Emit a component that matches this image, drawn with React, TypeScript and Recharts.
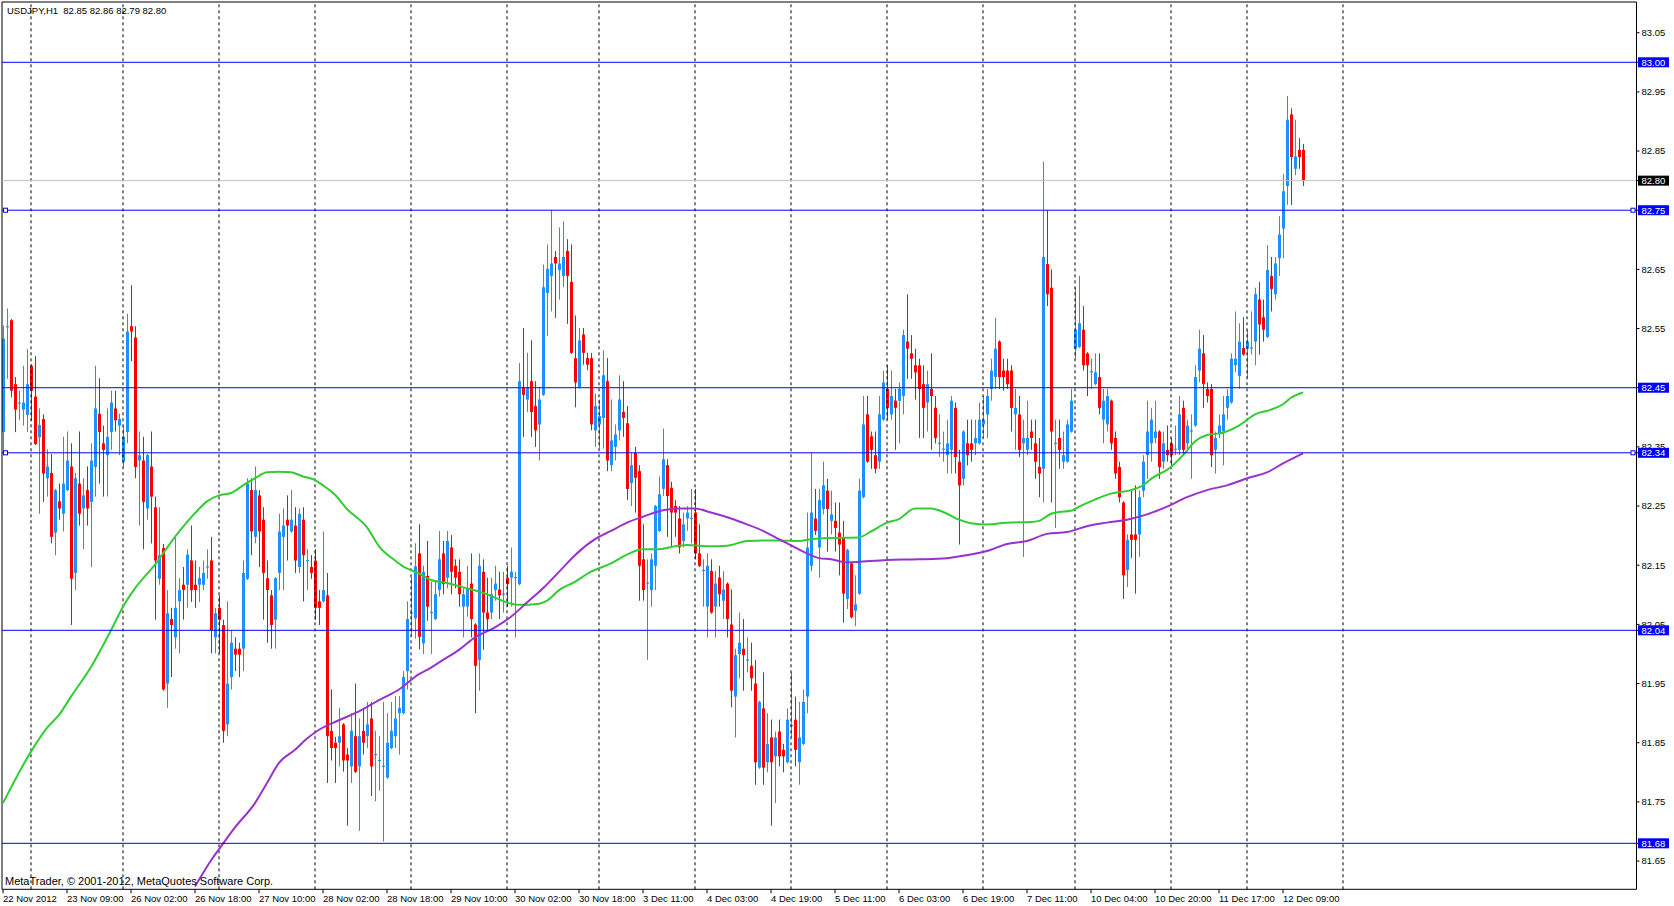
import { Bar, ComposedChart, Line, ReferenceLine, XAxis, YAxis } from "recharts"

// USDJPY H1 candles, bar 0 = 22 Nov 2012 17:00
const OPEN = [
  82.375, 82.552, 82.564, 82.456, 82.423, 82.413, 82.404, 82.487, 82.435, 82.366,
  82.397, 82.297, 82.306, 82.205, 82.258, 82.237, 82.277, 82.317, 82.137, 82.288,
  82.246, 82.277, 82.257, 82.316, 82.406, 82.356, 82.336, 82.375, 82.415, 82.386,
  82.325, 82.375, 82.554, 82.535, 82.327, 82.327, 82.246, 82.317, 82.248, 82.127,
  82.179, 81.95, 82.059, 82.028, 82.089, 82.117, 82.117, 82.158, 82.117, 82.117,
  82.117, 82.146, 82.158, 82.028, 82.078, 82.049, 81.881, 81.961, 82.009, 82.009,
  82.009, 82.127, 82.277, 82.198, 82.268, 82.227, 82.128, 82.099, 82.058, 82.137,
  82.198, 82.227, 82.207, 82.217, 82.147, 82.227, 82.157, 82.147, 82.158, 82.089,
  82.089, 82.099, 81.87, 81.85, 81.85, 81.881, 81.83, 81.81, 81.861, 81.81,
  81.87, 81.861, 81.891, 81.829, 81.819, 81.809, 81.791, 81.841, 81.861, 81.9,
  81.9, 81.971, 82.068, 82.06, 82.17, 82.018, 82.132, 82.069, 82.059, 82.108,
  82.17, 82.129, 82.18, 82.149, 82.139, 82.08, 82.08, 82.119, 82.05, 81.99,
  82.139, 82.07, 82.07, 82.108, 82.109, 82.1, 82.129, 82.129, 82.128, 82.118,
  82.451, 82.43, 82.461, 82.419, 82.388, 82.438, 82.61, 82.639, 82.671, 82.649,
  82.639, 82.681, 82.629, 82.5, 82.451, 82.54, 82.5, 82.5, 82.378, 82.388,
  82.399, 82.461, 82.319, 82.35, 82.378, 82.409, 82.39, 82.289, 82.34, 82.309,
  82.16, 82.119, 82.108, 82.149, 82.208, 82.279, 82.319, 82.281, 82.25, 82.229,
  82.191, 82.229, 82.228, 82.239, 82.17, 82.14, 82.08, 82.14, 82.08, 82.129,
  82.09, 82.119, 82.05, 81.928, 82.0, 82.009, 81.989, 81.98, 81.95, 81.808,
  81.908, 81.817, 81.859, 81.827, 81.869, 81.838, 81.817, 81.878, 81.889, 81.817,
  81.848, 81.928, 82.149, 82.229, 82.18, 82.245, 82.276, 82.225, 82.225, 82.205,
  82.196, 82.093, 82.153, 82.073, 82.102, 82.265, 82.405, 82.368, 82.336, 82.325,
  82.396, 82.448, 82.405, 82.428, 82.428, 82.436, 82.528, 82.508, 82.488, 82.488,
  82.456, 82.425, 82.448, 82.416, 82.355, 82.345, 82.336, 82.345, 82.416, 82.325,
  82.296, 82.356, 82.356, 82.356, 82.356, 82.388, 82.405, 82.448, 82.468, 82.528,
  82.479, 82.479, 82.479, 82.405, 82.405, 82.356, 82.345, 82.376, 82.356, 82.316,
  82.313, 82.659, 82.619, 82.355, 82.365, 82.325, 82.325, 82.376, 82.516, 82.519,
  82.548, 82.508, 82.476, 82.456, 82.468, 82.396, 82.388, 82.428, 82.365, 82.316,
  82.256, 82.142, 82.202, 82.202, 82.202, 82.276, 82.336, 82.356, 82.365, 82.376,
  82.325, 82.345, 82.356, 82.345, 82.345, 82.416, 82.356, 82.376, 82.386, 82.479,
  82.508, 82.448, 82.448, 82.345, 82.373, 82.376, 82.416, 82.425, 82.488, 82.47,
  82.517, 82.516, 82.516, 82.528, 82.599, 82.569, 82.536, 82.639, 82.608, 82.669,
  82.719, 82.791, 82.912, 82.82, 82.852, 82.852,
]

const HIGH = [
  82.555, 82.584, 82.566, 82.468, 82.445, 82.487, 82.515, 82.489, 82.504, 82.415,
  82.405, 82.346, 82.338, 82.279, 82.288, 82.367, 82.376, 82.356, 82.306, 82.376,
  82.297, 82.317, 82.356, 82.487, 82.466, 82.386, 82.415, 82.445, 82.445, 82.406,
  82.386, 82.575, 82.623, 82.554, 82.376, 82.367, 82.338, 82.376, 82.266, 82.248,
  82.186, 82.108, 82.078, 82.197, 82.128, 82.147, 82.177, 82.217, 82.158, 82.147,
  82.158, 82.177, 82.198, 82.078, 82.099, 82.058, 82.089, 82.04, 82.028, 82.019,
  82.158, 82.297, 82.297, 82.317, 82.277, 82.248, 82.158, 82.108, 82.13, 82.237,
  82.246, 82.268, 82.277, 82.248, 82.246, 82.248, 82.177, 82.167, 82.177, 82.108,
  82.207, 82.137, 81.94, 81.86, 81.909, 81.883, 81.841, 81.9, 81.95, 81.891,
  81.909, 81.919, 81.919, 81.87, 81.861, 81.919, 81.9, 81.919, 81.929, 81.929,
  81.971, 82.089, 82.13, 82.187, 82.219, 82.149, 82.191, 82.122, 82.122, 82.208,
  82.191, 82.208, 82.201, 82.16, 82.16, 82.111, 82.149, 82.17, 82.052, 82.17,
  82.16, 82.129, 82.129, 82.149, 82.139, 82.139, 82.149, 82.18, 82.139, 82.492,
  82.551, 82.509, 82.53, 82.461, 82.451, 82.658, 82.692, 82.75, 82.681, 82.721,
  82.731, 82.701, 82.692, 82.572, 82.551, 82.551, 82.509, 82.509, 82.44, 82.43,
  82.513, 82.5, 82.43, 82.388, 82.471, 82.461, 82.419, 82.34, 82.35, 82.319,
  82.219, 82.16, 82.17, 82.252, 82.3, 82.381, 82.329, 82.291, 82.26, 82.25,
  82.239, 82.25, 82.279, 82.279, 82.219, 82.16, 82.17, 82.16, 82.14, 82.149,
  82.14, 82.121, 82.109, 82.009, 82.07, 82.059, 82.028, 82.019, 81.99, 81.921,
  81.969, 81.9, 81.889, 81.869, 81.889, 81.848, 81.908, 81.969, 81.928, 81.919,
  81.94, 82.239, 82.34, 82.279, 82.279, 82.325, 82.296, 82.276, 82.256, 82.256,
  82.225, 82.178, 82.155, 82.133, 82.296, 82.436, 82.436, 82.376, 82.376, 82.436,
  82.479, 82.488, 82.479, 82.448, 82.459, 82.548, 82.608, 82.539, 82.516, 82.499,
  82.488, 82.479, 82.508, 82.436, 82.405, 82.376, 82.396, 82.436, 82.425, 82.345,
  82.378, 82.396, 82.396, 82.396, 82.425, 82.436, 82.448, 82.499, 82.568, 82.53,
  82.499, 82.499, 82.488, 82.448, 82.436, 82.396, 82.428, 82.396, 82.396, 82.365,
  82.832, 82.75, 82.65, 82.396, 82.396, 82.376, 82.396, 82.448, 82.619, 82.639,
  82.588, 82.51, 82.499, 82.508, 82.508, 82.448, 82.448, 82.43, 82.376, 82.325,
  82.258, 82.202, 82.276, 82.285, 82.276, 82.336, 82.428, 82.416, 82.428, 82.378,
  82.376, 82.386, 82.365, 82.386, 82.436, 82.428, 82.396, 82.405, 82.488, 82.548,
  82.539, 82.459, 82.456, 82.376, 82.405, 82.436, 82.448, 82.508, 82.579, 82.559,
  82.569, 82.548, 82.579, 82.619, 82.629, 82.599, 82.691, 82.671, 82.671, 82.74,
  82.811, 82.943, 82.922, 82.903, 82.872, 82.862,
]

const LOW = [
  82.344, 82.465, 82.434, 82.375, 82.395, 82.386, 82.375, 82.394, 82.353, 82.237,
  82.257, 82.266, 82.187, 82.167, 82.227, 82.207, 82.275, 82.049, 82.108, 82.217,
  82.177, 82.217, 82.147, 82.266, 82.288, 82.266, 82.266, 82.345, 82.376, 82.336,
  82.316, 82.356, 82.495, 82.297, 82.217, 82.177, 82.227, 82.187, 82.058, 82.117,
  81.938, 81.909, 81.961, 82.009, 82.001, 82.058, 82.078, 82.088, 82.078, 82.088,
  82.108, 82.127, 82.001, 82.001, 82.001, 81.85, 81.861, 81.94, 81.971, 81.961,
  81.971, 82.125, 82.167, 82.187, 82.147, 82.058, 82.019, 82.009, 82.009, 82.108,
  82.108, 82.158, 82.205, 82.137, 82.137, 82.089, 82.108, 82.127, 82.058, 82.049,
  82.087, 81.782, 81.82, 81.782, 81.81, 81.801, 81.71, 81.782, 81.799, 81.701,
  81.83, 81.841, 81.76, 81.751, 81.769, 81.683, 81.789, 81.839, 81.841, 81.83,
  81.898, 81.94, 82.03, 82.026, 82.008, 82.0, 82.056, 82.0, 82.057, 82.097,
  82.101, 82.111, 82.101, 82.111, 82.08, 82.028, 82.063, 82.028, 81.9, 81.938,
  82.007, 82.038, 82.059, 82.09, 82.059, 82.07, 82.08, 82.08, 82.028, 82.116,
  82.367, 82.409, 82.367, 82.35, 82.327, 82.436, 82.537, 82.579, 82.568, 82.599,
  82.62, 82.558, 82.507, 82.417, 82.449, 82.489, 82.48, 82.378, 82.35, 82.347,
  82.347, 82.309, 82.309, 82.327, 82.361, 82.367, 82.26, 82.25, 82.239, 82.09,
  82.09, 81.99, 82.08, 82.108, 82.206, 82.267, 82.198, 82.18, 82.198, 82.17,
  82.18, 82.208, 82.187, 82.16, 82.147, 82.08, 82.028, 82.068, 82.028, 82.08,
  82.059, 82.028, 81.91, 81.859, 81.959, 81.938, 81.969, 81.938, 81.779, 81.806,
  81.779, 81.8, 81.71, 81.748, 81.81, 81.8, 81.815, 81.859, 81.81, 81.779,
  81.846, 81.9, 82.14, 82.201, 82.129, 82.236, 82.173, 82.202, 82.173, 82.133,
  82.053, 82.076, 82.06, 82.047, 82.1, 82.263, 82.323, 82.313, 82.305, 82.313,
  82.394, 82.396, 82.396, 82.345, 82.356, 82.405, 82.465, 82.465, 82.43, 82.365,
  82.365, 82.376, 82.345, 82.356, 82.333, 82.325, 82.305, 82.305, 82.305, 82.185,
  82.285, 82.319, 82.325, 82.336, 82.354, 82.365, 82.365, 82.428, 82.448, 82.448,
  82.445, 82.448, 82.376, 82.345, 82.333, 82.164, 82.336, 82.345, 82.296, 82.265,
  82.256, 82.588, 82.256, 82.213, 82.313, 82.313, 82.323, 82.374, 82.499, 82.517,
  82.479, 82.436, 82.448, 82.454, 82.405, 82.356, 82.376, 82.345, 82.296, 82.256,
  82.093, 82.113, 82.162, 82.102, 82.164, 82.265, 82.296, 82.325, 82.356, 82.296,
  82.313, 82.325, 82.316, 82.336, 82.336, 82.336, 82.345, 82.296, 82.384, 82.459,
  82.416, 82.425, 82.316, 82.305, 82.365, 82.319, 82.396, 82.423, 82.476, 82.448,
  82.504, 82.466, 82.506, 82.488, 82.506, 82.528, 82.534, 82.579, 82.599, 82.639,
  82.669, 82.759, 82.759, 82.809, 82.82, 82.791,
]

const CLOSE = [
  82.533, 82.554, 82.445, 82.413, 82.425, 82.425, 82.456, 82.445, 82.355, 82.387,
  82.305, 82.317, 82.198, 82.277, 82.246, 82.288, 82.327, 82.127, 82.297, 82.237,
  82.268, 82.246, 82.327, 82.415, 82.375, 82.345, 82.367, 82.425, 82.395, 82.397,
  82.367, 82.545, 82.545, 82.316, 82.336, 82.257, 82.336, 82.266, 82.158, 82.167,
  81.94, 82.069, 82.049, 82.078, 82.108, 82.108, 82.168, 82.108, 82.108, 82.128,
  82.137, 82.148, 82.04, 82.069, 82.058, 81.87, 81.95, 82.019, 81.999, 81.999,
  82.137, 82.288, 82.207, 82.277, 82.207, 82.137, 82.108, 82.049, 82.128, 82.207,
  82.217, 82.217, 82.227, 82.158, 82.237, 82.167, 82.159, 82.137, 82.078, 82.078,
  82.108, 81.861, 81.841, 81.841, 81.861, 81.82, 81.82, 81.87, 81.801, 81.861,
  81.85, 81.881, 81.81, 81.831, 81.821, 81.811, 81.85, 81.87, 81.891, 81.909,
  81.961, 82.059, 82.07, 82.148, 82.029, 82.139, 82.08, 82.071, 82.101, 82.16,
  82.118, 82.191, 82.139, 82.129, 82.101, 82.101, 82.111, 82.059, 81.98, 82.149,
  82.07, 82.059, 82.101, 82.119, 82.099, 82.102, 82.118, 82.139, 82.13, 82.461,
  82.438, 82.451, 82.409, 82.378, 82.43, 82.62, 82.651, 82.66, 82.66, 82.66,
  82.671, 82.639, 82.509, 82.459, 82.53, 82.509, 82.489, 82.388, 82.419, 82.402,
  82.471, 82.327, 82.361, 82.371, 82.43, 82.399, 82.279, 82.319, 82.298, 82.149,
  82.108, 82.121, 82.16, 82.25, 82.27, 82.329, 82.267, 82.239, 82.239, 82.18,
  82.219, 82.239, 82.23, 82.17, 82.149, 82.142, 82.149, 82.07, 82.119, 82.101,
  82.109, 82.059, 81.938, 81.998, 82.019, 81.998, 81.991, 81.959, 81.817, 81.919,
  81.808, 81.848, 81.817, 81.859, 81.827, 81.827, 81.889, 81.88, 81.838, 81.859,
  81.919, 82.18, 82.239, 82.208, 82.26, 82.285, 82.245, 82.236, 82.213, 82.185,
  82.102, 82.176, 82.062, 82.084, 82.276, 82.388, 82.325, 82.345, 82.313, 82.405,
  82.459, 82.416, 82.436, 82.416, 82.448, 82.539, 82.516, 82.499, 82.476, 82.448,
  82.416, 82.456, 82.436, 82.365, 82.357, 82.347, 82.356, 82.428, 82.333, 82.285,
  82.376, 82.336, 82.345, 82.365, 82.396, 82.396, 82.436, 82.479, 82.516, 82.468,
  82.468, 82.456, 82.416, 82.416, 82.345, 82.365, 82.365, 82.365, 82.325, 82.305,
  82.671, 82.608, 82.376, 82.357, 82.345, 82.336, 82.388, 82.428, 82.548, 82.559,
  82.488, 82.488, 82.478, 82.476, 82.416, 82.428, 82.436, 82.356, 82.305, 82.265,
  82.133, 82.193, 82.193, 82.193, 82.265, 82.325, 82.376, 82.396, 82.376, 82.316,
  82.356, 82.336, 82.336, 82.347, 82.405, 82.345, 82.386, 82.378, 82.468, 82.516,
  82.456, 82.436, 82.336, 82.365, 82.386, 82.405, 82.436, 82.499, 82.499, 82.528,
  82.506, 82.528, 82.518, 82.608, 82.557, 82.548, 82.649, 82.617, 82.66, 82.709,
  82.782, 82.903, 82.84, 82.841, 82.84, 82.801,
]

// moving averages: [bar, price]
const GREEN_MA = [
  [0, 81.748], [7, 81.835], [11, 81.875], [14, 81.897], [17, 81.928], [22, 81.978], [27, 82.04],
  [30, 82.08], [33, 82.111], [38, 82.151], [43, 82.198], [48, 82.238], [51, 82.258], [54, 82.268],
  [57, 82.272], [60, 82.285], [63, 82.297], [66, 82.307], [69, 82.308], [72, 82.307], [75, 82.3],
  [78, 82.294], [80, 82.285], [83, 82.269], [86, 82.245], [91, 82.214], [94, 82.182], [98, 82.158],
  [100, 82.148], [104, 82.136], [107, 82.125], [111, 82.12], [116, 82.111], [121, 82.101],
  [126, 82.087], [129, 82.083], [134, 82.085], [136, 82.09], [139, 82.108], [143, 82.122],
  [147, 82.139], [152, 82.153], [156, 82.168], [160, 82.177], [164, 82.177], [167, 82.181],
  [171, 82.184], [177, 82.182], [181, 82.183], [186, 82.191], [190, 82.192], [194, 82.192],
  [199, 82.191], [202, 82.194], [206, 82.196], [214, 82.197], [217, 82.207], [221, 82.222],
  [224, 82.228], [228, 82.246], [232, 82.246], [236, 82.237], [239, 82.227], [242, 82.221],
  [246, 82.219], [251, 82.222], [257, 82.223], [259, 82.225], [262, 82.237], [264, 82.24],
  [267, 82.242], [269, 82.249], [273, 82.261], [277, 82.271], [282, 82.277], [285, 82.285],
  [287, 82.296], [292, 82.316], [295, 82.336], [298, 82.359], [301, 82.37], [305, 82.374],
  [309, 82.386], [313, 82.405], [317, 82.413], [320, 82.422], [322, 82.433], [325, 82.442],
]

const PURPLE_MA = [
  [48, 81.607], [52, 81.651], [54, 81.67], [58, 81.707], [63, 81.748], [66, 81.782], [69, 81.816],
  [73, 81.838], [76, 81.857], [79, 81.872], [84, 81.888], [89, 81.903], [94, 81.922], [99, 81.94],
  [104, 81.966], [106, 81.973], [110, 81.99], [114, 82.007], [118, 82.028], [123, 82.045],
  [127, 82.063], [131, 82.087], [135, 82.111], [140, 82.146], [143, 82.167], [148, 82.194],
  [152, 82.208], [156, 82.222], [160, 82.232], [165, 82.243], [169, 82.246], [173, 82.246],
  [177, 82.239], [182, 82.229], [186, 82.219], [190, 82.208], [194, 82.194], [198, 82.18],
  [201, 82.17], [204, 82.162], [207, 82.16], [211, 82.155], [221, 82.159], [229, 82.16],
  [236, 82.162], [241, 82.167], [246, 82.174], [251, 82.186], [256, 82.191], [261, 82.203],
  [266, 82.206], [271, 82.216], [276, 82.222], [281, 82.227], [286, 82.236], [291, 82.249],
  [296, 82.265], [301, 82.277], [306, 82.285], [312, 82.299], [316, 82.307], [320, 82.322],
  [325, 82.339],
]

const LABEL_BARS = [0, 16, 32, 48, 64, 80, 96, 112, 128, 144, 160, 176, 192, 208, 224, 240, 256, 272, 288, 304, 320]
const DATE_LABELS = [
  "22 Nov 2012", "23 Nov 09:00", "26 Nov 02:00", "26 Nov 18:00", "27 Nov 10:00", "28 Nov 02:00",
  "28 Nov 18:00", "29 Nov 10:00", "30 Nov 02:00", "30 Nov 18:00", "3 Dec 11:00", "4 Dec 03:00",
  "4 Dec 19:00", "5 Dec 11:00", "6 Dec 03:00", "6 Dec 19:00", "7 Dec 11:00", "10 Dec 04:00",
  "10 Dec 20:00", "11 Dec 17:00", "12 Dec 09:00",
]
// midnight bars -> vertical dashed grid
const GRID_BARS = [7, 30, 54, 78, 102, 126, 149, 173, 197, 221, 245, 268, 292, 311, 335]

// plain price scale labels (82.45 and 82.75 sit under the level tags)
const PRICE_TICKS = [81.65, 81.75, 81.85, 81.95, 82.05, 82.15, 82.25, 82.35, 82.55, 82.65, 82.85, 82.95, 83.05]
const LEVELS = [83.0, 82.75, 82.45, 82.34, 82.04, 81.68]
const SELECTED_LEVELS = [82.75, 82.34]
const BID = 82.8

const X_DOMAIN = [-0.25, 408.375]
const Y_DOMAIN = [81.6023, 83.1019]

const BULL = "#1e90ff"
const BEAR = "#ff0000"
const LEVEL_BLUE = "#0000ff"
const FONT = "'Liberation Sans', Arial, sans-serif"

const rows: Record<string, number | undefined>[] = OPEN.map((open, i) => ({
  i,
  open,
  high: HIGH[i],
  low: LOW[i],
  close: CLOSE[i],
}))
GREEN_MA.forEach(([bar, v]) => {
  rows[bar].fast = v
})
PURPLE_MA.forEach(([bar, v]) => {
  rows[bar].slow = v
})

const Candle = (props: any) => {
  const { x, y, width, height, payload } = props
  if (x == null || y == null || !payload) return null
  const { open, high, low, close } = payload
  const top = Math.min(y, y + height)
  const span = Math.abs(height)
  const range = high - low || 1
  const toY = (price: number) => top + ((high - price) / range) * span
  const color = close >= open ? BULL : BEAR
  const cx = Math.round(x + width / 2)
  const bodyTop = toY(Math.max(open, close))
  const bodyBottom = toY(Math.min(open, close))
  return (
    <g>
      <line x1={cx + 0.5} x2={cx + 0.5} y1={top} y2={top + span} stroke={color} strokeWidth={1} />
      <rect x={cx - 1} y={bodyTop} width={3} height={Math.max(1, bodyBottom - bodyTop)} fill={color} />
    </g>
  )
}

// little selection squares at both ends of a selected level line
const Handles = ({ viewBox }: any) => {
  if (!viewBox) return null
  const { x, y, width } = viewBox
  return (
    <g>
      <rect x={x + 1.5} y={y - 2} width={4} height={4} fill="#fff" stroke={LEVEL_BLUE} strokeWidth={1} />
      <rect x={x + width - 5.5} y={y - 2} width={4} height={4} fill="#fff" stroke={LEVEL_BLUE} strokeWidth={1} />
    </g>
  )
}

const PriceTick = ({ x, y, payload }: any) => {
  const v = Number(payload.value)
  const bg = v === BID ? "#000" : LEVELS.includes(v) ? LEVEL_BLUE : null
  return (
    <g>
      {bg && <rect x={x - 3.5} y={y - 5} width={31} height={10} fill={bg} />}
      <text x={x} y={y} dy="0.36em" textAnchor="start" fill={bg ? "#fff" : "#000"} fontSize={9.5} fontFamily={FONT}>
        {v.toFixed(2)}
      </text>
    </g>
  )
}

const DateTick = ({ x, y, payload }: any) => {
  const idx = LABEL_BARS.indexOf(payload.value)
  return (
    <text x={x} y={y + 9} textAnchor="start" fill="#000" fontSize={9.5} fontFamily={FONT}>
      {DATE_LABELS[idx] ?? ""}
    </text>
  )
}

const App = () => {
  return (
    <div style={{ position: "absolute", left: 0, top: 0, width: 1674, height: 906, background: "#fff", fontFamily: FONT }}>
      <ComposedChart width={1674} height={906} data={rows} margin={{ top: 2, right: 0, bottom: 0, left: 2 }}>
        <XAxis
          dataKey="i"
          type="number"
          domain={X_DOMAIN}
          allowDataOverflow
          ticks={LABEL_BARS}
          interval={0}
          height={16.7}
          tickSize={4}
          tickMargin={0}
          axisLine={{ stroke: "#000" }}
          tickLine={{ stroke: "#000" }}
          tick={<DateTick />}
        />
        <YAxis
          orientation="right"
          type="number"
          domain={Y_DOMAIN}
          allowDataOverflow
          ticks={[...PRICE_TICKS, BID, ...LEVELS]}
          interval={0}
          width={37.5}
          tickSize={3}
          tickMargin={2}
          axisLine={{ stroke: "#000" }}
          tickLine={{ stroke: "#000" }}
          tick={<PriceTick />}
        />
        {GRID_BARS.map((b) => (
          <ReferenceLine key={`g${b}`} x={b} stroke="#000" strokeDasharray="3 3" />
        ))}
        <ReferenceLine x={X_DOMAIN[0]} stroke="#000" />
        <ReferenceLine y={Y_DOMAIN[1]} stroke="#000" />
        <Bar
          dataKey={(d: any) => [d.low, d.high]}
          barSize={3}
          shape={<Candle />}
          isAnimationActive={false}
        />
        <Line
          dataKey="fast"
          type="monotone"
          stroke="#32cd32"
          strokeWidth={2}
          dot={false}
          activeDot={false}
          connectNulls
          isAnimationActive={false}
        />
        <Line
          dataKey="slow"
          type="monotone"
          stroke="#9932cc"
          strokeWidth={2}
          dot={false}
          activeDot={false}
          connectNulls
          isAnimationActive={false}
        />
        <ReferenceLine y={BID} stroke="#c0c0c0" />
        {LEVELS.map((lv) => (
          <ReferenceLine
            key={lv}
            y={lv}
            stroke={LEVEL_BLUE}
            label={SELECTED_LEVELS.includes(lv) ? (p: any) => <Handles viewBox={p.viewBox} /> : undefined}
          />
        ))}
      </ComposedChart>

      <div style={{ position: "absolute", left: 7, top: 6, fontSize: 9.5, lineHeight: "9.5px", whiteSpace: "pre", color: "#000" }}>
        USDJPY,H1  82.85 82.86 82.79 82.80
      </div>
      <div style={{ position: "absolute", left: 5, top: 875.5, fontSize: 11, lineHeight: "11px", whiteSpace: "pre", color: "#000" }}>
        MetaTrader, © 2001-2012, MetaQuotes Software Corp.
      </div>
    </div>
  )
}

export default App
